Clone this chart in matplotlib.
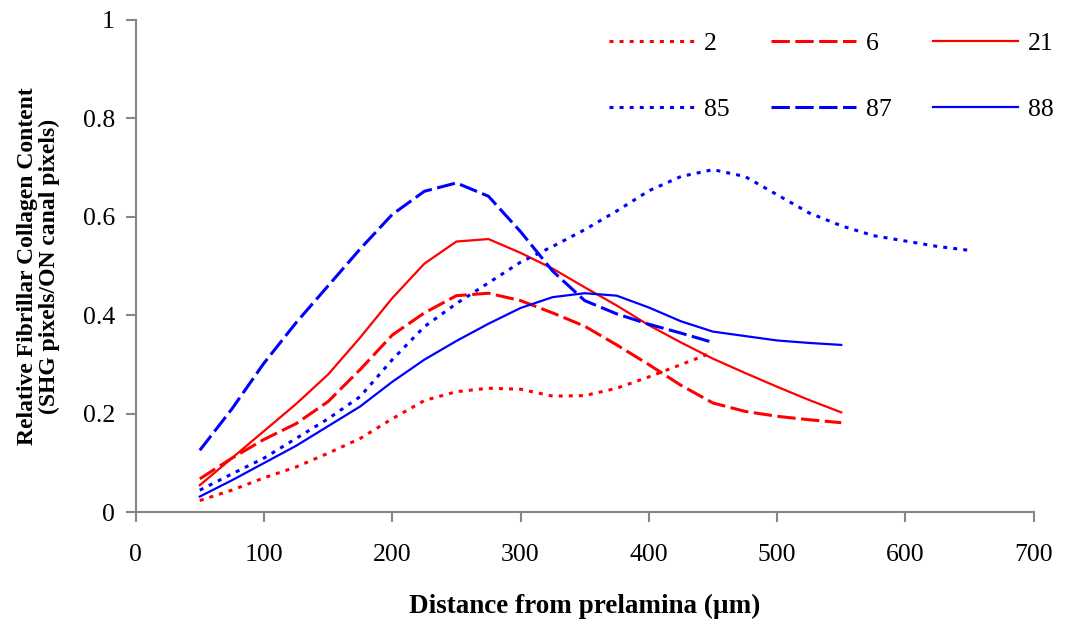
import matplotlib
matplotlib.use("Agg")
import matplotlib.pyplot as plt

# Distances (µm)
x_450 = [50, 75, 100, 125, 150, 175, 200, 225, 250, 275, 300, 325, 350, 375, 400, 425, 450]
x_550 = [50, 75, 100, 125, 150, 175, 200, 225, 250, 275, 300, 325, 350, 375, 400, 425, 450,
         475, 500, 525, 550]
x_650 = [50, 75, 100, 125, 150, 175, 200, 225, 250, 275, 300, 325, 350, 375, 400, 425, 450,
         475, 500, 525, 550, 575, 600, 625, 650]

s2 = [0.024, 0.045, 0.070, 0.092, 0.120, 0.150, 0.190, 0.227, 0.245, 0.252, 0.250, 0.236,
      0.237, 0.252, 0.275, 0.300, 0.325]
s6 = [0.068, 0.110, 0.148, 0.180, 0.225, 0.290, 0.360, 0.405, 0.440, 0.445, 0.430, 0.405,
      0.378, 0.340, 0.300, 0.258, 0.222, 0.205, 0.195, 0.188, 0.182]
s21 = [0.055, 0.110, 0.165, 0.220, 0.280, 0.355, 0.435, 0.505, 0.550, 0.555, 0.527, 0.495,
       0.457, 0.420, 0.380, 0.345, 0.312, 0.283, 0.255, 0.228, 0.203]
s85 = [0.045, 0.078, 0.110, 0.150, 0.190, 0.235, 0.310, 0.377, 0.424, 0.466, 0.508, 0.540,
       0.574, 0.612, 0.653, 0.682, 0.696, 0.682, 0.645, 0.608, 0.582, 0.562, 0.551, 0.540,
       0.532]
s87 = [0.126, 0.210, 0.303, 0.385, 0.460, 0.535, 0.605, 0.652, 0.669, 0.642, 0.570, 0.490,
       0.430, 0.403, 0.382, 0.364, 0.345]
s88 = [0.032, 0.065, 0.100, 0.135, 0.175, 0.215, 0.265, 0.310, 0.348, 0.383, 0.415, 0.437,
       0.445, 0.440, 0.416, 0.388, 0.367, 0.358, 0.349, 0.344, 0.340]

x_ticks = [0, 100, 200, 300, 400, 500, 600, 700]
y_ticks = [0, 0.2, 0.4, 0.6, 0.8, 1.0]
y_tick_labels = ["0", "0.2", "0.4", "0.6", "0.8", "1"]

plt.rcParams['font.family'] = ['Liberation Serif', 'DejaVu Serif']

fig = plt.figure(figsize=(10.65, 6.24), dpi=100)
ax = fig.add_axes([0.1274, 0.179, 0.8432, 0.789])

RED = "#FF0000"
BLUE = "#0000FF"
dot = (0, (1.3, 2.0))
dash = (0, (6.0, 1.8))

l2, = ax.plot(x_450, s2, color=RED, lw=2.2, linestyle=dot, label="2")
l6, = ax.plot(x_550, s6, color=RED, lw=2.2, linestyle=dash, label="6")
l21, = ax.plot(x_550, s21, color=RED, lw=1.6, linestyle="-", label="21")
l85, = ax.plot(x_650, s85, color=BLUE, lw=2.2, linestyle=dot, label="85")
l87, = ax.plot(x_450, s87, color=BLUE, lw=2.2, linestyle=dash, label="87")
l88, = ax.plot(x_550, s88, color=BLUE, lw=1.6, linestyle="-", label="88")

ax.set_xlim(0, 700)
ax.set_ylim(0, 1)
ax.set_xticks(x_ticks)
ax.set_xticklabels([str(v) for v in x_ticks])
ax.set_yticks(y_ticks)
ax.set_yticklabels(y_tick_labels)

for side in ("top", "right"):
    ax.spines[side].set_visible(False)
for side in ("left", "bottom"):
    ax.spines[side].set_color("#868686")
    ax.spines[side].set_linewidth(1.5)

ax.tick_params(axis="both", direction="out", length=7, width=1.5, color="#868686",
               labelsize=18.5, labelcolor="black")
ax.tick_params(axis="x", pad=16)
ax.tick_params(axis="y", pad=8)

ax.set_xlabel("Distance from prelamina (µm)", fontsize=19.5, fontweight="bold")
ax.xaxis.set_label_coords(0.5, -0.165)
ax.set_ylabel("Relative Fibrillar Collagen Content\n(SHG pixels/ON canal pixels)",
              fontsize=17, fontweight="bold", linespacing=1.05)
ax.yaxis.set_label_coords(-0.0843, 0.5)

handles = [l2, l85, l6, l87, l21, l88]
labels = [h.get_label() for h in handles]
leg = ax.legend(handles, labels, ncol=3, frameon=False, fontsize=18.5,
                loc="upper left", bbox_to_anchor=(609 / 1065, 1 - 32 / 624),
                bbox_transform=fig.transFigure,
                handlelength=3.3, handletextpad=0.4, columnspacing=1.6,
                labelspacing=1.67, borderpad=0, borderaxespad=0)

fig.savefig("out.png", dpi=100)
